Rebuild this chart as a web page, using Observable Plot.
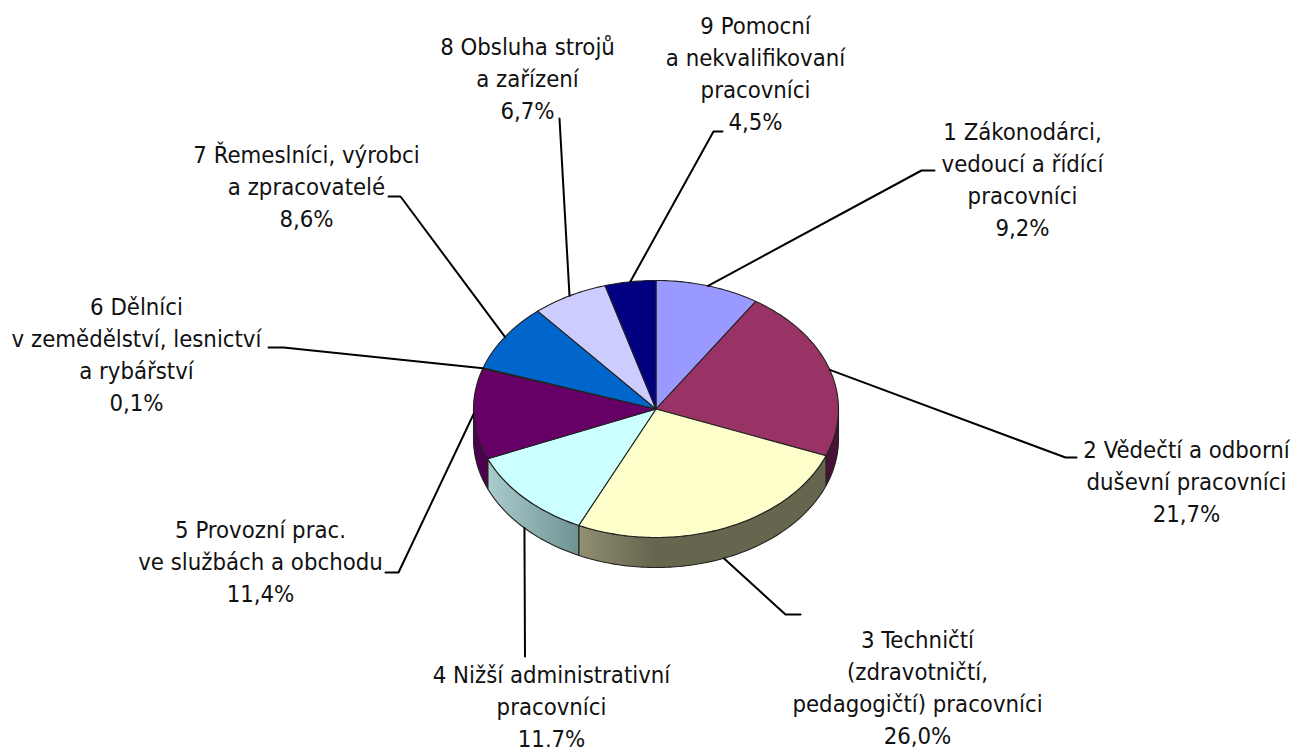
<!DOCTYPE html>
<html><head><meta charset="utf-8">
<script src="https://cdn.jsdelivr.net/npm/d3@7"></script>
<script src="https://cdn.jsdelivr.net/npm/@observablehq/plot@0.6"></script>
<style>html,body{margin:0;padding:0;background:#fff}svg{display:block}</style>
</head><body><div id="chart"></div>
<script>
const labels = [
  "1 Zákonodárci,\nvedoucí a řídící\npracovníci",
  "2 Vědečtí a odborní\nduševní pracovníci",
  "3 Techničtí\n(zdravotničtí,\npedagogičtí) pracovníci",
  "4 Nižší administrativní\npracovníci",
  "5 Provozní prac.\nve službách a obchodu",
  "6 Dělníci\nv zemědělství, lesnictví\na rybářství",
  "7 Řemeslníci, výrobci\na zpracovatelé",
  "8 Obsluha strojů\na zařízení",
  "9 Pomocní\na nekvalifikovaní\npracovníci"
];
const shares = [9.2, 21.7, 26.0, 11.7, 11.4, 0.1, 8.6, 6.7, 4.5];
const colors = ["#9999FF","#993366","#FFFFCC","#CCFFFF","#660066","#FF8080","#0066CC","#CCCCFF","#000080"];
const wallColors = ["#4d4d80","#4a1238","#66664f","#6f9292","#4d004d","#804040","#003366","#666680","#000040"];

// Pie geometry in plot coordinates
const cx = 655.5, cy = 408.5, rx = 182.5, ry = 128.5, depth = 30;
// Label anchor (text centre, first-line centre) and leader elbow / end
const labelX = [1022,1186,917,551,260,136,306,527,755];
const labelTop = [129.5,447.5,637.5,672.5,527.5,304.5,152.5,44.5,23.5];
const lineH = 32;
const elbowA = [[921,170],[1065,457],[785,614],[524.5,656],[398,572],[283,347],[400,196],[559,118],[713,131]];
const elbowB = [[934,170],[1076,457],[800,614],null,[385,572],[268,347],[388,196],null,[722,131]];

const total = d3.sum(shares);
let acc = 0;
const slices = shares.map((v,i)=>{const a0=acc/total*2*Math.PI; acc+=v; const a1=acc/total*2*Math.PI; return {i,a0,a1,mid:(a0+a1)/2};});
const pt = (a,d=0)=>[cx+rx*Math.sin(a), cy-ry*Math.cos(a)+d];
const arc = (a0,a1,d=0)=>{const n=Math.max(2,Math.ceil((a1-a0)*60)); return d3.range(n+1).map(k=>pt(a0+(a1-a0)*k/n,d));};

const X=p=>p[0],Y=p=>p[1];
const base={x:X,y:Y,curve:"linear-closed"};
const borderStroke="#222";

const walls = slices.map(s=>{
  const a0=Math.max(s.a0,Math.PI/2), a1=Math.min(s.a1,1.5*Math.PI);
  if(a1<=a0) return null;
  return {i:s.i,pts:[...arc(a0,a1),...arc(a0,a1,depth).reverse()]};
}).filter(Boolean);

const gradientStops = {
  2:[["0%","#928f72"],["30%","#66664f"],["100%","#66664f"]],
  3:[["0%","#aacccc"],["100%","#6f9292"]]
};
const defsMark = ()=>{
  const defs=d3.create("svg:defs");
  for(const [k,stops] of Object.entries(gradientStops)){
    const g=defs.append("linearGradient").attr("id","wall"+k);
    g.attr("x1","0%").attr("x2","100%").attr("y1","0%").attr("y2","0%");
    stops.forEach(([o,c])=>g.append("stop").attr("offset",o).attr("stop-color",c));
  }
  return defs.node();
};

const marks=[defsMark];
for(const w of walls){
  marks.push(Plot.line(w.pts,{...base,fill:gradientStops[w.i]?`url(#wall${w.i})`:wallColors[w.i],stroke:borderStroke,strokeWidth:1.1}));
}
for(const s of slices){
  marks.push(Plot.line([[cx,cy],...arc(s.a0,s.a1)],{...base,fill:colors[s.i],stroke:borderStroke,strokeWidth:1.1}));
}
// leaders
slices.forEach(s=>{
  const front=Math.cos(s.mid)<-0.5;
  const pts=[pt(s.mid,front?depth:0),elbowA[s.i]];
  if(elbowB[s.i])pts.push(elbowB[s.i]);
  marks.push(Plot.line(pts,{x:X,y:Y,stroke:"#000",strokeWidth:2,curve:"linear"}));
});
// text labels
const textRows=labels.map((t,i)=>{
  const s=t+"\n"+shares[i].toFixed(1).replace(".",",")+"%";
  const n=s.split("\n").length;
  return {x:labelX[i],y:labelTop[i]+(n-1)*lineH/2,t:s};
});
marks.push(Plot.text(textRows,{x:"x",y:"y",text:"t",textAnchor:"middle",lineAnchor:"middle",lineHeight:lineH/23.7,fontSize:23.7,fontFamily:"'DejaVu Sans Condensed','DejaVu Sans',sans-serif",fill:"#111"}));

const chart=Plot.plot({width:1293,height:747,margin:0,
  x:{domain:[0,1293],range:[0,1293],axis:null},
  y:{domain:[0,747],range:[0,747],axis:null},
  style:{background:"#fff"},marks});
document.getElementById("chart").append(chart);
</script></body></html>
